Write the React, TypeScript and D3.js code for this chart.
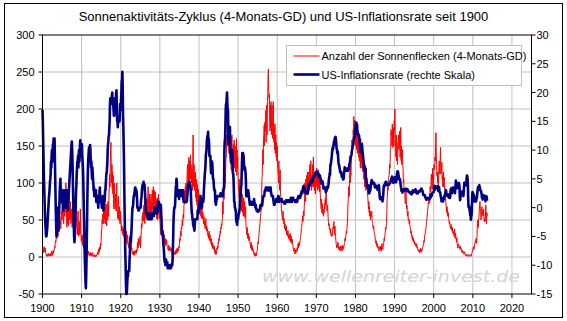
import React from 'react';
import * as d3 from 'd3';

const startYear = 1900;

// Sunspot number, 4-month moving average, monthly Jan 1900 .. Sep 2013
const sunspots: number[] = [
  8,12,10,6,10,14,9,7,12,8,5,4,
  2,1,4,3,1,2,5,3,1,2,4,2,
  3,5,1,4,8,6,2,4,7,9,5,8,
  10,14,12,18,22,20,26,30,25,35,40,30,
  28,42,35,50,38,55,42,50,38,48,55,62,
  50,78,58,70,52,45,75,82,55,68,60,92,
  100,70,52,40,62,45,60,55,42,98,65,50,
  68,55,75,45,65,52,60,40,62,72,45,40,
  35,58,38,28,55,62,40,72,78,50,42,30,
  45,62,40,28,38,48,32,30,65,45,32,22,
  28,22,18,30,15,20,12,25,18,14,10,12,
  8,4,6,10,3,5,7,2,4,8,5,6,
  2,4,3,6,2,1,5,3,4,2,6,3,
  1,2,0,1,3,1,0,2,1,2,1,3,
  4,6,3,8,10,5,12,8,14,10,18,15,
  22,35,38,50,45,58,52,62,45,65,52,72,
  50,45,68,72,48,42,65,70,50,75,60,55,
  85,100,112,95,128,145,155,115,100,125,92,115,
  85,110,78,65,92,100,70,65,85,68,62,90,
  100,65,58,52,78,82,50,60,68,48,45,62,
  55,48,40,35,42,32,38,30,28,35,40,30,
  38,25,30,22,28,35,20,18,25,30,22,15,
  18,12,20,15,10,22,8,14,18,10,12,8,
  4,6,3,8,5,2,7,4,9,5,6,8,
  5,10,8,15,20,12,25,18,15,22,20,28,
  15,12,25,35,45,40,55,50,60,48,65,70,
  50,75,45,68,55,72,52,78,60,50,72,82,
  95,70,55,75,85,60,78,52,70,85,58,75,
  65,90,75,58,95,75,68,90,72,62,88,75,
  62,78,52,58,80,50,72,60,85,68,52,62,
  50,45,38,30,42,35,28,38,32,25,30,35,
  28,22,30,18,25,20,15,24,18,22,16,14,
  14,10,12,16,8,12,10,14,8,10,12,9,
  10,6,4,8,5,3,7,4,6,5,3,8,
  4,6,10,5,8,12,6,9,11,8,14,12,
  18,25,22,30,35,28,40,38,45,50,42,55,
  58,52,70,75,90,72,95,78,100,85,75,105,
  115,125,95,90,120,135,100,130,105,122,138,105,
  125,100,118,95,90,130,165,105,95,125,90,110,
  98,115,80,92,75,105,70,98,78,65,92,75,
  85,65,78,58,72,75,55,68,52,72,58,52,
  60,52,45,55,50,42,48,38,45,52,40,35,
  42,35,38,30,28,32,25,35,28,22,30,25,
  22,18,25,15,20,12,16,18,10,14,12,15,
  8,5,10,6,3,8,5,12,10,15,12,20,
  18,25,22,30,28,35,32,40,38,45,42,48,
  52,75,58,88,95,78,105,92,115,100,125,135,
  135,165,150,195,170,185,150,175,140,178,150,168,
  155,125,160,118,148,165,115,140,125,152,120,145,
  158,135,120,150,115,140,125,160,110,145,120,135,
  110,90,95,80,105,75,72,95,65,88,75,62,
  75,85,60,78,55,80,65,55,75,58,52,68,
  45,38,35,30,40,28,25,32,30,22,28,25,
  22,18,15,12,20,10,14,16,8,12,10,9,
  5,3,2,6,4,1,3,5,2,6,8,10,
  15,20,18,25,30,35,40,45,50,55,60,65,
  75,105,110,128,145,125,158,165,178,150,182,175,
  170,198,155,205,180,165,210,220,245,254,225,215,
  220,185,170,205,175,210,180,165,205,170,160,195,
  210,170,155,175,145,180,140,160,165,135,155,130,
  150,125,118,112,100,130,108,95,90,118,85,82,
  75,65,60,55,50,58,62,48,45,52,40,38,
  45,40,35,38,42,30,35,32,28,36,30,25,
  28,30,25,22,32,20,26,28,22,18,24,20,
  15,12,10,8,12,6,4,8,10,5,6,9,
  10,12,8,14,18,12,16,20,15,18,22,25,
  28,32,38,40,45,50,55,48,58,62,55,68,
  80,100,88,75,105,92,110,88,105,115,90,108,
  95,115,100,90,125,110,95,130,105,90,110,95,
  115,125,95,135,110,100,90,115,95,85,110,95,
  95,120,100,115,90,110,118,95,92,112,88,105,
  85,75,70,65,78,60,68,72,58,65,55,62,
  60,72,65,78,70,82,90,75,68,62,70,65,
  55,48,42,45,38,40,35,32,38,30,28,32,
  28,32,35,40,38,45,48,35,30,42,32,28,
  22,18,15,12,16,14,20,18,12,10,14,12,
  10,8,12,15,10,14,12,8,16,12,10,14,
  12,15,18,20,25,22,28,30,35,32,38,45,
  50,72,78,95,90,82,105,115,100,125,110,130,
  135,158,155,150,150,172,165,190,170,155,185,165,
  170,150,175,145,165,180,140,160,170,145,135,165,
  130,155,140,120,160,125,150,135,120,155,130,115,
  135,140,105,130,95,125,100,120,90,115,120,95,
  95,88,80,72,65,75,60,68,55,62,50,58,
  55,60,62,50,48,45,40,38,42,35,32,30,
  28,22,20,18,22,16,14,18,15,12,14,10,
  8,10,12,14,15,10,12,8,14,18,15,12,
  10,14,15,20,25,22,28,32,35,40,38,45,
  58,78,82,95,90,105,108,110,112,125,120,145,
  145,172,165,168,150,180,155,148,175,160,150,185,
  170,200,165,160,135,165,130,155,140,125,145,160,
  165,145,150,150,170,135,155,175,130,150,125,130,
  145,125,120,100,105,90,88,92,78,72,75,88,
  75,65,70,60,55,62,50,52,48,45,50,42,
  40,38,32,35,28,30,25,28,22,26,24,20,
  22,18,20,16,18,15,14,16,18,12,14,10,
  9,8,10,7,9,6,10,8,12,6,8,10,
  8,10,12,14,16,18,22,20,28,30,32,35,
  38,42,48,52,55,60,65,70,75,80,72,85,
  75,95,90,88,105,112,100,92,105,120,92,110,
  105,125,120,118,135,130,155,168,135,125,110,115,
  100,115,95,100,120,130,115,112,135,148,115,112,
  120,128,105,110,95,98,115,95,108,92,95,80,
  82,75,70,65,60,68,62,55,58,60,52,48,
  45,48,42,40,38,44,42,38,35,40,35,32,
  35,32,30,28,38,30,25,32,28,24,20,26,
  18,14,12,15,18,16,14,12,15,10,14,12,
  12,10,8,6,9,7,8,5,4,6,5,7,
  4,3,2,4,3,1,2,1,2,3,4,2,
  1,2,1,1,2,3,2,1,4,5,6,8,
  10,12,14,10,12,15,18,20,22,20,25,18,
  20,30,45,50,45,40,50,55,65,70,75,65,
  62,50,55,60,68,58,62,55,60,65,55,48,
  52,50,48,62,70,55,45,60,55,
];

// US inflation rate (% YoY), monthly Jan 1900 .. Sep 2013
const inflation: number[] = [
  17,15,12,9,6,4,2,0,-2,-3,-4,-5,
  -5,-4.5,-4,-3,-2,-1,0,1,2,2.5,3.5,4.5,
  5,6,8,7,9,10,8,9,11,10,12,11,
  10,12,8,5,2,-1,-3,-5,-4,-3,-2,0,
  -3,-4,-2,-1,1,3,4,5,3,2,1,2,
  2,3,1,-0.5,1,2,3,2,0,1,2,3,
  2,1,0,2,3,1,-0.5,1,2,3,4,5,
  6,7,8,9,10,11,11.5,10,8,5,2,-1,
  -3,-5,-6,-5,-3,-1,1,3,4,6,7,8,
  8,9,7,9,10,8,9,11,11.7,10,11,9,
  10,11,9,8,7,5,2,-1,-4,-7,-9,-11,
  -13,-14,-12,-9,-5,-1,3,6,8,9,10,10.5,
  9,10,10.9,10,8,7,8,6,5,7,6,5,
  4,3,3.5,2,2.5,2,2,3,3,1,2,1.5,
  2,1,1,0,1.5,1,1,3,3.5,1.5,1,1,
  1,1,0,1,1.5,2,1,-0.5,0,1.5,1,1.5,
  3,3,4,5,6,6,7,8,10,11,11.5,12.5,
  12.5,14,15,18,19,19,19,18,19,19.5,20,18,
  19,18,17,16,16,17,19,18,18,19,20,20.4,
  17,15,15,14,15,15,15,15,15,16,18,18,
  17,19,20,22,22,23.6,21,16,14,11,8,3,
  -1,-5,-8,-10,-13,-15,-15,-14.5,-13,-12,-12,-11,
  -11,-11,-11,-9,-8,-6,-5,-6,-5,-4,-2.5,-1,
  0,0,0.5,1.5,2,2,2.5,3,3.5,3.5,3,3,
  3,2.5,1.5,0,0,0,-0.5,-0.5,-0.5,0,0,0,
  0,0,1,1.5,2,3,3.5,4,3.5,3.5,4.5,3.5,
  3.5,4,3,2,1,0,-1,-1,-1,-1,-1.5,-1,
  -2,-2,-2,-2,-1.5,-1,-2,-2,-2,-1.5,-2,-2,
  -1,-1.5,-1.5,-1,-1,-1.5,-1,0,0,-1,-1,-1,
  -1,0,-1,-1,-1,0,1,1,0,1,0.5,0.5,
  0,0,-0.5,0.5,-1,-2,-4,-4.5,-4,-4.5,-5.5,-6.5,
  -7,-8,-9,-9.5,-9.5,-10,-9,-9,-9.5,-10,-10,-9.5,
  -10.5,-10,-10.5,-10,-10.5,-10.5,-10,-10.5,-10.5,-10,-10.5,-10.3,
  -9.8,-10,-10,-9,-7,-5,-2,-1,0,0,0,0.8,
  2.3,3.5,4,5,4.5,3,2.5,2,3,2,2,1.5,
  3,3,3,3,3,2.5,2,3,2.5,3,3,3,
  1.5,1,1,1,1,1,1,1,1,1,1,1.2,
  2,2.5,3.5,4,4,4,4.5,4.5,4,4,3.5,2.8,
  1,0,-1,-1,-2,-2,-3,-3,-3.5,-3.5,-4,-3,
  -2,-2,-2,-2,-2,-2,-2,-2,-0.5,-1,-1,0,
  -0.5,1,0,1,1.5,2,1.5,1.5,0,0,1,1,
  1.5,1,1.5,3,4,5,6,6.5,7.5,9,9.5,10,
  11.5,12,12.5,12.5,13.2,11,12,11,9,9,9,9,
  7.5,6,7.5,8,8,7.5,6,5,5,4.5,3.5,3,
  3,3,1,1,0.5,1,1.5,1.5,2,2,2,2,
  2,2,2,2,2,2,2.5,2,2,2,2,2,
  2.5,2,3,3,3.5,3.5,10,11.5,12,14,17,18,
  18,19,20,18,17,17,12,11,12.5,12.5,13,14,
  10,9,8,9,9,9.5,10,9,6,6,5,3,
  1,1,0,0,-0.5,-0.5,-2,-2.5,-2.5,-3,-2,-2,
  -2,-1.5,-1,-1,-0.5,0,1.5,2,2.5,3.5,4,6,
  8,9.5,9.5,9.5,9,9,7.5,7,6.5,7,6.5,6,
  4.5,2,2,2.5,2,2.5,3,3,2.5,2,1.5,1,
  0.5,1,1,1,1,1,0.5,0.5,0.5,0.5,0.5,0.5,
  1,1.5,1,0.5,0.5,0,0.5,0,-0.3,-0.5,-0.3,-0.5,
  -0.7,-0.5,-0.7,-0.5,-0.5,-0.5,-0.3,-0.3,0.3,0.5,0.3,0.5,
  0.3,0.3,0.5,1,1.5,2,2,2,2,2.5,3,3,
  3,3.5,3.5,3.5,3.5,3,3.5,3.5,3,3,3,3,
  3.5,3,3.5,3.5,3.5,2.5,2.5,2,2,2,2,2,
  1.5,1,0.5,0.5,0.5,1,1,1,1.2,1.5,1.5,1.5,
  1,1,1.5,2,2,1.5,1.5,1,1.5,1.5,1.5,1.5,
  1.5,1.5,1.5,1,1,1,1,1,1,1,0.7,0.7,
  0.7,1,1,1.3,1.3,1.3,1,1,1.3,1.3,1.3,1.3,
  1.3,1,1,1,1.3,1.3,1.7,1.7,1.3,1,1.3,1.7,
  1.7,1.7,1.3,1.3,1.3,1.3,1.3,1,1,1.3,1.3,1,
  1,1,1.3,1.7,1.7,2,1.7,2,1.7,2,1.7,2,
  2,2.5,2.5,2.9,2.9,2.5,2.8,3.5,3.5,3.8,3.5,3.5,
  3.5,3,2.8,2.5,2.5,2.8,2.8,2.8,2.8,2.4,2.7,3,
  3.7,4,4,4,3.9,4.2,4.5,4.4,4.4,4.8,4.7,4.7,
  4.4,4.7,5.2,5.5,5.5,5.5,5.4,5.7,5.8,5.7,6,6.2,
  6.2,6.3,5.8,6,6.1,6,6,5.4,5.7,5.7,5.6,5.6,
  5.3,5,4.7,4.2,4.4,4.6,4.4,4.6,4.1,3.8,3.3,3.3,
  3.3,3.5,3.5,3.5,3.2,2.7,2.9,2.9,3.2,3.4,3.7,3.4,
  3.6,3.9,4.6,5.1,5.5,6,5.7,7.4,7.4,7.8,8.3,8.7,
  9.4,10,10.4,10.1,10.7,10.9,11.5,10.9,11.9,12.1,12.2,12.3,
  11.8,11.2,10.3,10.2,9.5,9.4,9.7,8.6,7.9,7.4,7.4,6.9,
  6.7,6.3,6.1,6,6.2,6,5.4,5.7,5.5,5.5,4.9,4.9,
  5.2,6,6.4,7,6.7,6.9,6.8,6.6,6.6,6.4,6.7,6.7,
  6.8,6.4,6.6,6.5,6.9,7.4,7.7,7.8,8.3,8.9,8.9,9,
  9.3,9.9,10.1,10.5,10.8,10.9,11.3,11.8,12.2,12.1,12.6,13.3,
  13.9,14.2,14.8,14.7,14.4,14.4,13.1,12.9,12.6,12.8,12.6,12.5,
  11.8,11.4,10.5,10,9.8,9.6,10.8,10.8,11,10.1,9.6,8.9,
  8.4,7.6,6.8,6.5,6.7,7.1,6.4,5.9,5,5.1,4.6,3.8,
  3.7,3.5,3.6,3.9,3.5,2.6,2.5,2.6,2.9,2.9,3.3,3.8,
  4.2,4.6,4.8,4.6,4.2,4.2,4.2,4.3,4.3,4.3,4.1,3.9,
  3.5,3.5,3.7,3.7,3.8,3.8,3.6,3.3,3.1,3.2,3.5,3.8,
  3.9,3.1,2.2,1.6,1.5,1.8,1.6,1.6,1.8,1.5,1.3,1.1,
  1.5,2.1,3,3.8,3.9,3.7,3.9,4.3,4.4,4.5,4.5,4.4,
  4,3.9,3.9,3.9,3.9,4,4.1,4,4.2,4.2,4.2,4.4,
  4.7,4.8,5,5.1,5.4,5.2,5,4.7,4.3,4.5,4.7,4.6,
  5.2,5.3,5.2,4.7,4.4,4.7,4.8,5.6,6.2,6.3,6.3,6.1,
  5.7,5.3,4.9,4.9,5,4.7,4.4,3.8,3.4,2.9,3,3.1,
  2.6,2.8,3.2,3.2,3,3.1,3.2,3.1,3,3.2,3,2.9,
  3.3,3.2,3.1,3.2,3.2,3,2.8,2.8,2.7,2.8,2.7,2.7,
  2.5,2.5,2.5,2.4,2.3,2.5,2.8,2.9,3,2.6,2.7,2.7,
  2.8,2.9,2.9,3.1,3.2,3,2.8,2.6,2.5,2.8,2.6,2.5,
  2.7,2.7,2.8,2.9,2.9,2.8,3,2.9,3,3,3.3,3.3,
  3,3,2.8,2.5,2.2,2.3,2.2,2.2,2.2,2.1,1.8,1.7,
  1.6,1.4,1.4,1.4,1.7,1.7,1.7,1.6,1.5,1.5,1.5,1.6,
  1.7,1.6,1.7,2.3,2.1,2,2.1,2.3,2.6,2.6,2.6,2.7,
  2.7,3.2,3.8,3.1,3.2,3.7,3.7,3.4,3.5,3.4,3.4,3.4,
  3.7,3.5,2.9,3.3,3.6,3.2,2.7,2.7,2.6,2.1,1.9,1.6,
  1.1,1.1,1.5,1.6,1.2,1.1,1.5,1.8,1.5,2,2.2,2.4,
  2.6,3,3,2.2,2.1,2.1,2.1,2.2,2.3,2,1.8,1.9,
  1.9,1.7,1.7,2.3,3.1,3.3,3,2.7,2.5,3.2,3.5,3.3,
  3,3,3.1,3.5,2.8,2.5,3.2,3.6,4.7,4.3,3.5,3.4,
  4,3.6,3.4,3.5,4.2,4.3,4.1,3.8,2.1,1.3,2,2.5,
  2.1,2.4,2.8,2.6,2.7,2.7,2.4,2,2.8,3.5,4.3,4.1,
  4.3,4,4,3.9,4.2,5,5.6,5.4,4.9,3.7,1.1,0.1,
  0,0.2,-0.4,-0.7,-1.3,-1.4,-2.1,-1.5,-1.3,-0.2,1.8,2.7,
  2.6,2.1,2.3,2.2,2,1.1,1.2,1.1,1.1,1.2,1.1,1.5,
  1.6,2.1,2.7,3.2,3.6,3.6,3.6,3.8,3.9,3.5,3.4,3,
  2.9,2.9,2.7,2.3,1.7,1.7,1.4,1.7,2,2.2,1.8,1.7,
  1.6,2,1.5,1.1,1.4,1.8,2,1.5,1.2,
];

const yearTicks = [1900, 1910, 1920, 1930, 1940, 1950, 1960, 1970, 1980, 1990, 2000, 2010, 2020];
const leftTicks = [-50, 0, 50, 100, 150, 200, 250, 300];
const rightTicks = [-15, -10, -5, 0, 5, 10, 15, 20, 25, 30];
const title = 'Sonnenaktivitäts-Zyklus (4-Monats-GD) und US-Inflationsrate seit 1900';
const legendLabels = ['Anzahl der Sonnenflecken (4-Monats-GD)', 'US-Inflationsrate (rechte Skala)'];
const watermark = 'www.wellenreiter-invest.de';

const FONT = '"Liberation Sans", Arial, sans-serif';

export default function App() {
  const W = 567;
  const H = 321;
  const left = 42.5, right = 531.5, top = 35, bottom = 294;
  const x = d3.scaleLinear().domain([1900, 2025]).range([left, right]);
  const yL = d3.scaleLinear().domain([-50, 300]).range([bottom, top]);
  const yR = d3.scaleLinear().domain([-15, 30]).range([bottom, top]);

  const redPath = d3.line<number>()
    .x((_, i) => x(startYear + i / 12))
    .y((d) => yL(d))(sunspots) || '';
  const bluePath = d3.line<number>()
    .x((_, i) => x(startYear + i / 12))
    .y((d) => yR(d))(inflation) || '';

  const lx = 286.5, ly = 45.5, lw = 235, lh = 40;

  return (
    <svg width={W} height={H} style={{ position: 'absolute', left: 0, top: 0 }} fontFamily={FONT}>
      <rect x={0} y={0} width={W} height={H} fill="#fff" />
      <rect x={4.5} y={3.5} width={558} height={314} fill="none" stroke="#000" strokeWidth={1} />
      <text x={283.5} y={21} textAnchor="middle" fontSize={13} fill="#000">{title}</text>

      {/* gridlines */}
      {leftTicks.filter((t) => t > -50 && t < 300).map((t) => (
        <line key={'h' + t} x1={left} x2={right} y1={yL(t)} y2={yL(t)} stroke="#c0c0c0" strokeWidth={1} />
      ))}
      {yearTicks.filter((t) => t > 1900).map((t) => (
        <line key={'v' + t} x1={x(t)} x2={x(t)} y1={top} y2={bottom} stroke="#c0c0c0" strokeWidth={1} />
      ))}

      {/* watermark */}
      <text x={262} y={281.5} fontSize={16.5} fontStyle="italic" fill="#d4d4d4"
        fontFamily='"DejaVu Sans", Verdana, sans-serif' textLength={258} lengthAdjust="spacingAndGlyphs">{watermark}</text>

      {/* series */}
      <path d={redPath} fill="none" stroke="#ff0000" strokeWidth={1} />
      <path d={bluePath} fill="none" stroke="#000080" strokeWidth={2.6} strokeLinejoin="round" />

      {/* plot frame */}
      <rect x={left} y={top} width={right - left} height={bottom - top} fill="none" stroke="#000" strokeWidth={1} />

      {/* left axis */}
      {leftTicks.map((t) => (
        <g key={'l' + t}>
          <line x1={left - 4} x2={left} y1={yL(t)} y2={yL(t)} stroke="#000" />
          <text x={left - 8} y={yL(t) + 4} textAnchor="end" fontSize={11} fill="#000">{t}</text>
        </g>
      ))}
      {/* right axis */}
      {rightTicks.map((t) => (
        <g key={'r' + t}>
          <line x1={right} x2={right + 4} y1={yR(t)} y2={yR(t)} stroke="#000" />
          <text x={right + 5} y={yR(t) + 4} textAnchor="start" fontSize={11} fill="#000">{t}</text>
        </g>
      ))}
      {/* bottom axis */}
      {yearTicks.map((t) => (
        <g key={'b' + t}>
          <line x1={x(t)} x2={x(t)} y1={bottom} y2={bottom + 4} stroke="#000" />
          <text x={x(t)} y={312} textAnchor="middle" fontSize={11} fill="#000">{t}</text>
        </g>
      ))}

      {/* legend */}
      <rect x={lx} y={ly} width={lw} height={lh} fill="#fff" stroke="#c0c0c0" strokeWidth={1} />
      <line x1={lx + 7} x2={lx + 33} y1={ly + 10.5} y2={ly + 10.5} stroke="#ff0000" strokeWidth={1} />
      <text x={lx + 35} y={ly + 14} fontSize={11} fill="#000">{legendLabels[0]}</text>
      <line x1={lx + 7} x2={lx + 33} y1={ly + 29} y2={ly + 29} stroke="#000080" strokeWidth={2.6} />
      <text x={lx + 35} y={ly + 33} fontSize={11} fill="#000">{legendLabels[1]}</text>
    </svg>
  );
}
